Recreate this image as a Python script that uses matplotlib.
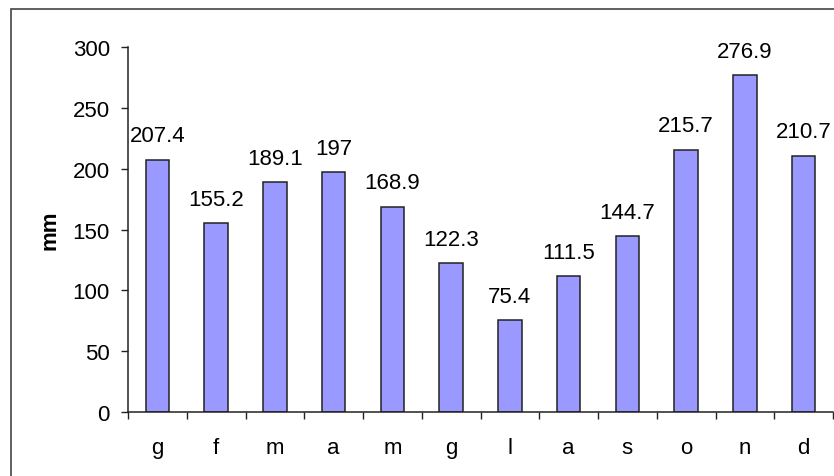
import numpy as np
import matplotlib.pyplot as plt
from matplotlib.patches import Rectangle

months = ['g', 'f', 'm', 'a', 'm', 'g', 'l', 'a', 's', 'o', 'n', 'd']
rain = [207.4, 155.2, 189.1, 197, 168.9, 122.3, 75.4, 111.5, 144.7, 215.7, 276.9, 210.7]
labels = ['207.4', '155.2', '189.1', '197', '168.9', '122.3', '75.4', '111.5', '144.7', '215.7', '276.9', '210.7']

plt.rcParams['font.family'] = ['Liberation Sans', 'DejaVu Sans']
fs = 16

fig = plt.figure(figsize=(8.34, 4.77), dpi=100)
ax = fig.add_axes([0.1535, 0.1348, 0.8453, 0.7639])

x = np.arange(len(months))
ax.bar(x, rain, width=0.4, color='#9999FF', edgecolor='#222222', linewidth=1.1)

for xi, v, t in zip(x, rain, labels):
    ax.annotate(t, (xi, v), xytext=(0, 13.2), textcoords='offset points',
                ha='center', va='baseline', fontsize=fs)

ax.set_xlim(-0.5, len(months) - 0.5)
ax.set_ylim(0, 300)
ax.set_yticks(range(0, 301, 50))
ax.tick_params(axis='y', labelsize=fs, length=5, width=1, pad=8, color='#222222')

ax.set_xticks(np.arange(-0.5, len(months)), minor=False)
ax.set_xticklabels([])
ax.set_xticks(x, minor=True)
ax.set_xticklabels(months, minor=True)
ax.tick_params(axis='x', which='major', length=5, width=1, color='#222222')
ax.tick_params(axis='x', which='minor', length=0, labelsize=fs, pad=18)

for s in ['top', 'right']:
    ax.spines[s].set_visible(False)
for s in ['left', 'bottom']:
    ax.spines[s].set_color('#222222')
    ax.spines[s].set_linewidth(1.1)

ax.set_ylabel('mm', fontsize=fs, fontweight='bold', labelpad=9)

# chart-area border, cropped at the right and bottom
fig.patches.append(Rectangle((11 / 834, -0.1), 1.2, 1 - 10 / 477 + 0.1,
                             transform=fig.transFigure, fill=False,
                             edgecolor='#444444', linewidth=1.2))

fig.savefig('out.png', dpi=100)
